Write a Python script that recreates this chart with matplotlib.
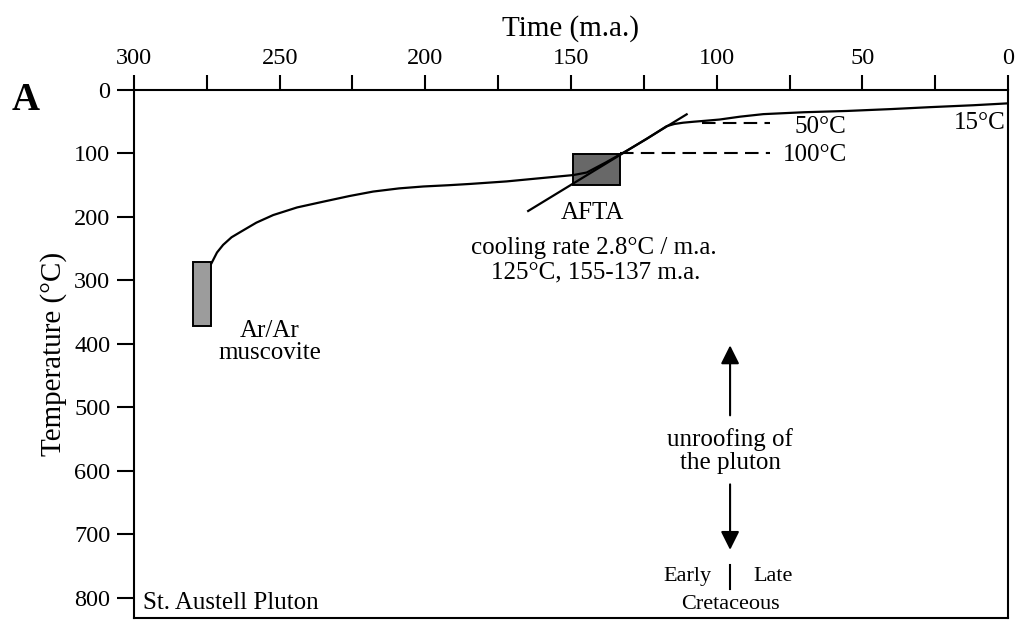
import matplotlib
matplotlib.use("Agg")
import matplotlib.pyplot as plt
from matplotlib.patches import Rectangle

plt.rcParams['font.family'] = ['Liberation Serif', 'DejaVu Serif']

# cooling path of the pluton (time in m.a., temperature in deg C)
path_time = [273.4, 271.5, 269.4, 266.5, 263.2, 258.0, 252.2, 244.0, 235.1, 226.0,
             217.9, 209.0, 200.7, 192.0, 184.7, 172.1, 160.7, 149.2, 144.6, 138.0,
             131.0, 124.0, 117.2, 114.5, 111.5, 108.0, 104.0, 99.0, 92.0, 84.0,
             70.0, 55.4, 40.0, 26.8, 12.0, 0.0]
path_temp = [273, 256, 244, 232, 223, 209, 197, 185, 176, 167,
             160, 155, 152, 150, 148, 144, 139, 134, 130, 114,
             96, 77, 57, 53.5, 51.5, 50, 48.5, 46.5, 42, 38,
             35, 33, 30, 27, 24, 21]

# cooling rate line through the AFTA box
rate_time = [164.7, 110.3]
rate_temp = [190.6, 38.3]

# age / temperature boxes: (time_old, time_young, temp_low, temp_high)
arar_box = (279.7, 273.4, 271, 372)
afta_box = (149.4, 133.2, 101, 150)

# isotherm dashes: (temp, time_start, time_end)
iso_50 = (52, 105.0, 81.7)
iso_100 = (100, 133.2, 81.7)

xticks_major = list(range(0, 301, 50))
xticks_minor = list(range(25, 300, 50))
yticks = list(range(0, 801, 100))

fig = plt.figure(figsize=(10.18, 6.2), dpi=100)
ax = fig.add_axes([0.1316, 0.0032, 0.8586, 0.8516])

ax.set_xlim(300, 0)
ax.set_ylim(832, 0)

ax.plot(path_time, path_temp, color='black', lw=1.6, zorder=3)
ax.plot(rate_time, rate_temp, color='black', lw=1.6, zorder=3)

for box, fc in [(arar_box, '#9c9c9c'), (afta_box, '#686868')]:
    t0, t1, lo, hi = box
    ax.add_patch(Rectangle((t1, lo), t0 - t1, hi - lo, facecolor=fc,
                           edgecolor='black', lw=1.4, zorder=2))

for temp, ts, te in [iso_50, iso_100]:
    ax.plot([ts, te], [temp, temp], color='black', lw=1.5, ls=(0, (6.5, 3.5)), zorder=2)

fs = 18
ax.text(64.5, 58, '50°C', fontsize=fs, ha='center', va='center')
ax.text(66.3, 102, '100°C', fontsize=fs, ha='center', va='center')
ax.text(9.6, 52, '15°C', fontsize=fs, ha='center', va='center')
ax.text(253.3, 397, 'Ar/Ar\nmuscovite', fontsize=fs, ha='center', va='center',
        linespacing=1.0)
ax.text(142.5, 194, 'AFTA', fontsize=fs, ha='center', va='center')
ax.text(142.0, 249, 'cooling rate 2.8°C / m.a.', fontsize=fs, ha='center', va='center')
ax.text(141.5, 288, '125°C, 155-137 m.a.', fontsize=fs, ha='center', va='center')

# unroofing arrows
ax.annotate('', xy=(95.4, 398), xytext=(95.4, 517),
            arrowprops=dict(arrowstyle='-|>', color='black', lw=1.5,
                            mutation_scale=28))
ax.annotate('', xy=(95.4, 729), xytext=(95.4, 617),
            arrowprops=dict(arrowstyle='-|>', color='black', lw=1.5,
                            mutation_scale=28))
ax.text(95.4, 569, 'unroofing of\nthe pluton', fontsize=fs, ha='center', va='center',
        linespacing=1.05)
ax.plot([95.4, 95.4], [748, 787], color='black', lw=1.5)
ax.text(109.9, 767, 'Early', fontsize=16, ha='center', va='center')
ax.text(80.7, 767, 'Late', fontsize=16, ha='center', va='center')
ax.text(95.4, 811, 'Cretaceous', fontsize=16, ha='center', va='center')
ax.text(297, 808, 'St. Austell Pluton', fontsize=fs, ha='left', va='center')

# axes styling
ax.xaxis.tick_top()
ax.xaxis.set_label_position('top')
ax.set_xticks(xticks_major)
ax.set_xticks(xticks_minor, minor=True)
ax.set_yticks(yticks)
ax.tick_params(axis='x', which='both', direction='out', length=11, width=1.5,
               labelsize=17.5, pad=4)
ax.tick_params(axis='y', direction='out', length=12, width=1.5, labelsize=17.5, pad=5)
for s in ax.spines.values():
    s.set_linewidth(1.5)

ax.set_xlabel('Time (m.a.)', fontsize=21, labelpad=9)
ax.set_ylabel('Temperature (°C)', fontsize=21, labelpad=5)

fig.text(0.025, 1 - 100 / 620, 'A', fontsize=28, fontweight='bold',
         ha='center', va='center')

fig.savefig('out.png', dpi=100)
